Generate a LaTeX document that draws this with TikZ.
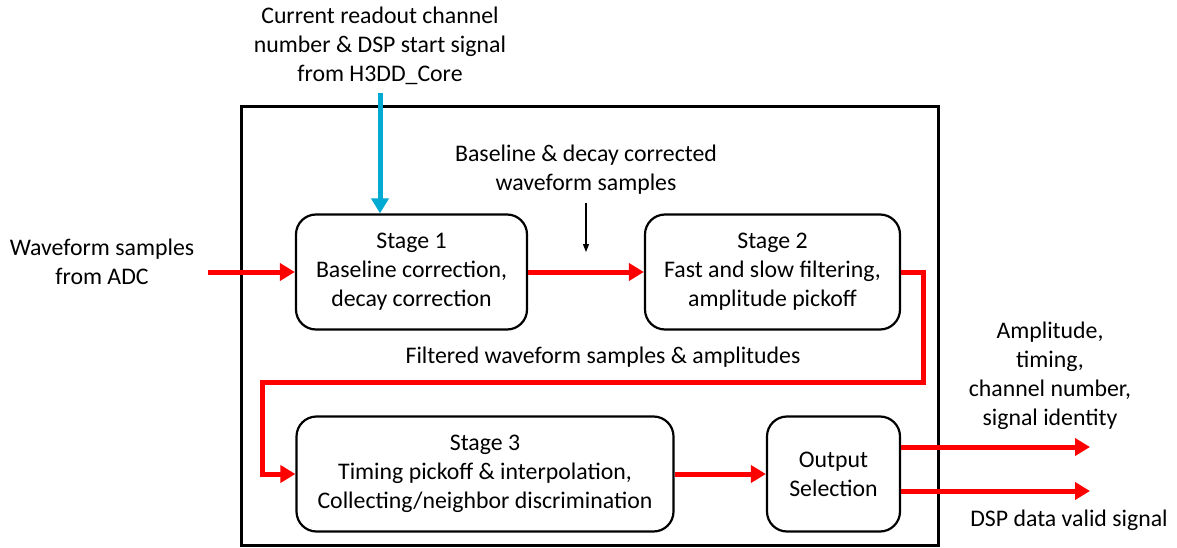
\documentclass[tikz,border=0pt]{standalone}
\usepackage{fontspec}
\setmainfont{Carlito}
\usetikzlibrary{arrows.meta}
\definecolor{sigred}{RGB}{255,0,0}
\definecolor{ctrlblue}{RGB}{0,170,210}
\tikzset{
  stagebox/.style={draw, line width=2.2pt, rounded corners=20pt, align=center, inner sep=0pt},
  lbl/.style={align=center, inner sep=0pt},
  dataflow/.style={draw=sigred, line width=5pt, -{Triangle[length=15pt,width=17pt]}},
}
\begin{document}
\begin{tikzpicture}[x=1pt,y=-1pt,font=\fontsize{23.8}{29}\selectfont]
\useasboundingbox (0,0) rectangle (1177,548);
% enclosing block
\draw[line width=3pt] (241,107) rectangle (938,545);
% processing stages
\node[stagebox, minimum width=231pt, minimum height=115pt] (s1) at (411.5,272) {Stage 1\\Baseline correction,\\decay correction};
\node[stagebox, minimum width=255pt, minimum height=115pt] (s2) at (772.5,272) {Stage 2\\Fast and slow filtering,\\amplitude pickoff};
\node[stagebox, minimum width=377pt, minimum height=115pt] (s3) at (485,474) {Stage 3\\Timing pickoff \& interpolation,\\Collecting/neighbor discrimination};
\node[stagebox, minimum width=133pt, minimum height=115pt] (os) at (833.5,474) {Output\\Selection};
% labels
\node[lbl] (ctl) at (380,46) {Current readout channel\\number \& DSP start signal\\from H3DD\_Core};
\node[lbl] (corr) at (586,170) {Baseline \& decay corrected\\waveform samples};
\node[lbl] (adc) at (102,262) {Waveform samples\\from ADC};
\node[lbl] (filt) at (603,357) {Filtered waveform samples \& amplitudes};
\node[lbl] (res) at (1050,376) {Amplitude,\\timing,\\channel number,\\signal identity};
\node[lbl] (valid) at (1069,520) {DSP data valid signal};
% connector end points
\coordinate (inL) at (208,272);
\coordinate (ctlTop) at (380,93);
\coordinate (corrTip) at (586,203);
\coordinate (corrEnd) at (586,252);
\coordinate (out1) at (1090,447);
\coordinate (out2) at (1090,491);
% control signal
\draw[draw=ctrlblue, line width=5pt, -{Triangle[length=15pt,width=17pt]}] (ctlTop) -- (ctlTop |- s1.north);
\draw[-{Triangle[length=8pt,width=6pt]}, line width=1.2pt] (corrTip) -- (corrEnd);
% data path
\draw[dataflow] (inL) -- (s1.west);
\draw[dataflow] (s1.east) -- (s2.west);
\draw[dataflow] (s2.east) -- (923,272) -- (923,382) -- (262,382) -- (262,474) -- (s3.west);
\draw[dataflow] (s3.east) -- (os.west);
\draw[dataflow] (os.east |- out1) -- (out1);
\draw[dataflow] (os.east |- out2) -- (out2);
\end{tikzpicture}
\end{document}
